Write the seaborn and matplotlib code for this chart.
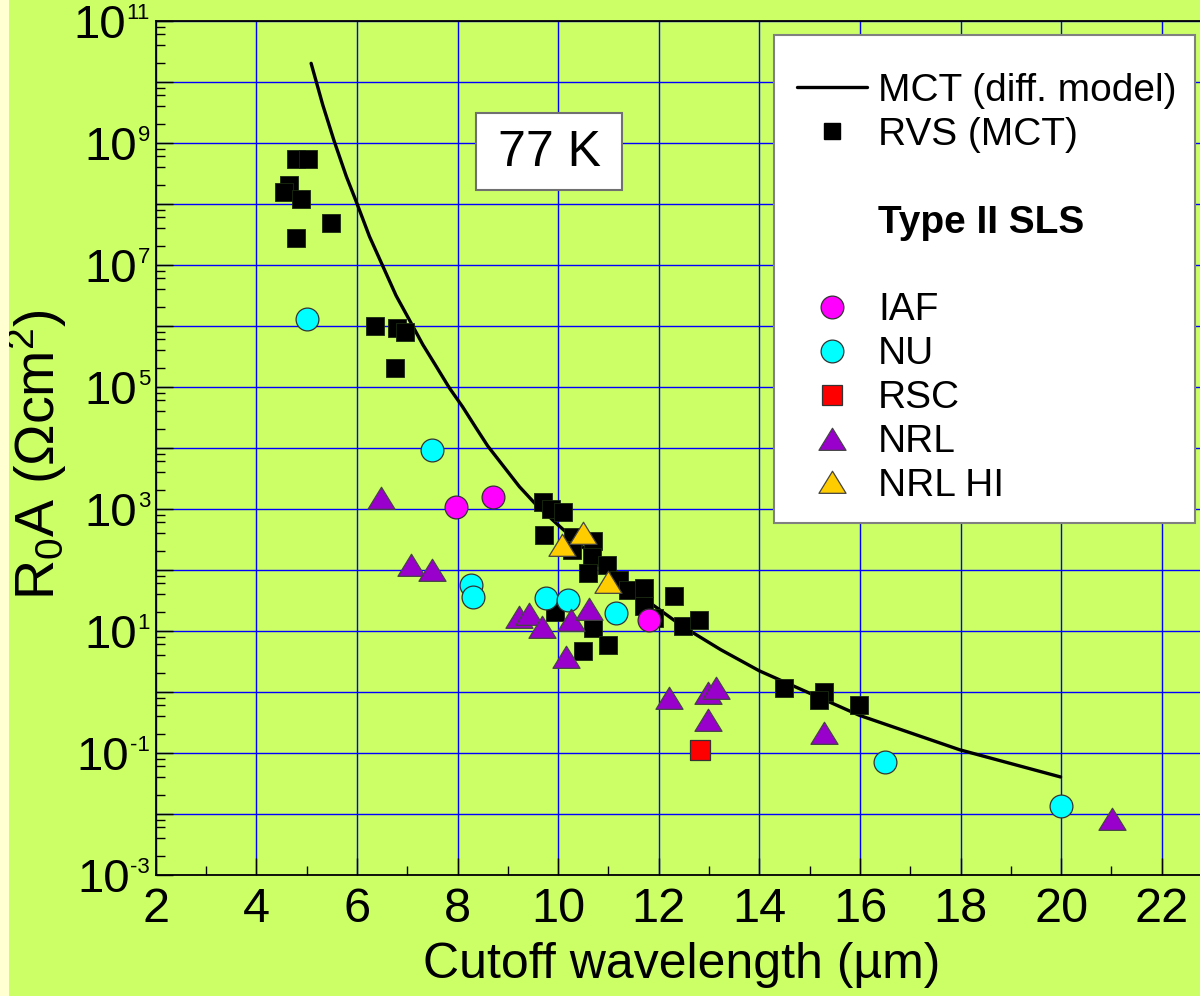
import numpy as np
import pandas as pd
import matplotlib
matplotlib.use("Agg")
import matplotlib.pyplot as plt
import matplotlib.transforms as mtrans
import seaborn as sns
from matplotlib.lines import Line2D
from matplotlib.patches import Rectangle
from matplotlib.path import Path
from matplotlib.ticker import FixedLocator, FuncFormatter, LogLocator, NullFormatter

sns.set_theme(style="white")
plt.rcParams['font.family'] = ['Liberation Sans', 'DejaVu Sans']
plt.rcParams['mathtext.fontset'] = 'custom'
plt.rcParams['mathtext.rm'] = 'Liberation Sans'
plt.rcParams['mathtext.it'] = 'Liberation Sans:italic'
plt.rcParams['mathtext.bf'] = 'Liberation Sans:bold'
plt.rcParams['text.color'] = 'black'
plt.rcParams['axes.labelcolor'] = 'black'
plt.rcParams['xtick.color'] = 'black'
plt.rcParams['ytick.color'] = 'black'

# ---- MCT diffusion-limited model curve (77 K) ----
model_wl = [5.09, 5.32, 5.55, 5.79, 5.98, 6.25, 6.48, 6.78, 7.04, 7.31, 7.57, 7.84,
            8.10, 8.37, 8.60, 9.23, 9.56, 9.99, 10.82, 11.62, 12.48, 13.23, 14.00,
            15.99, 17.98, 19.99]
model_ra = [2.0e10, 4.2e9, 1.05e9, 2.8e8, 1.12e8, 2.9e7, 1.1e7, 3.1e6, 1.26e6, 4.9e5,
            2.2e5, 9.5e4, 4.7e4, 2.1e4, 1.07e4, 2.3e3, 1.17e3, 5.5e2, 1.35e2, 38,
            11.7, 4.9, 2.2, 0.41, 0.112, 0.040]

# ---- RVS HgCdTe data ----
rvs_wl = [4.79, 5.02, 4.66, 4.56, 4.89, 5.49, 4.79, 6.35, 6.79, 6.96, 6.75,
          9.70, 9.86, 10.09, 9.71, 10.30, 10.27, 10.70, 10.68, 10.98, 10.59,
          11.22, 11.38, 11.70, 12.30, 11.70, 11.91, 9.93, 10.69, 10.99, 10.49,
          12.48, 12.80, 14.50, 15.29, 15.19, 15.99]
rvs_ra = [5.5e8, 5.5e8, 2.0e8, 1.55e8, 1.2e8, 4.8e7, 2.7e7, 1.0e6, 9.1e5, 7.8e5, 2.0e5,
          1.3e3, 1.0e3, 8.9e2, 3.7e2, 3.5e2, 2.1e2, 3.0e2, 1.6e2, 1.2e2, 87,
          68, 47, 50, 37, 25, 16, 20, 11, 5.9, 4.7,
          12, 15, 1.15, 1.0, 0.72, 0.60]

# ---- Type II superlattice data ----
iaf_wl = [7.97, 8.70, 11.80]
iaf_ra = [1.07e3, 1.55e3, 15]

nu_wl = [5.01, 7.49, 8.27, 8.30, 9.76, 10.19, 11.15, 16.50, 20.00]
nu_ra = [1.3e6, 9.1e3, 56, 36, 34, 32, 19.5, 0.071, 0.0135]

rsc_wl = [12.83]
rsc_ra = [0.11]

nrl_wl = [6.47, 7.08, 7.50, 9.23, 9.43, 9.68, 10.26, 10.61, 10.16, 12.20, 12.99,
          13.13, 12.99, 15.29, 21.01]
nrl_ra = [1.5e3, 1.2e2, 1.0e2, 16.6, 19, 11.7, 15, 23, 3.7, 0.78, 0.95,
          1.17, 0.35, 0.21, 8.3e-3]

nrl_hi_wl = [10.08, 10.49, 11.00]
nrl_hi_ra = [2.5e2, 4.0e2, 63]

x_ticks = [2, 4, 6, 8, 10, 12, 14, 16, 18, 20, 22]
y_exponents = list(range(-3, 12))

LIME = '#CCFF66'
W, H = 1200, 996
AX_L, AX_B, AX_T = 155.7, 874.7, 20.7          # axes frame in pixels

fig = plt.figure(figsize=(W / 100, H / 100), dpi=100, facecolor=LIME)
ax = fig.add_axes([AX_L / W, 1 - AX_B / H, 1 - AX_L / W, (AX_B - AX_T) / H])
ax.set_facecolor(LIME)
fig.patches.append(Rectangle((0, 0), 9 / W, 1, transform=fig.transFigure,
                             facecolor='#FFFFD2', edgecolor='none', zorder=0))

# wider-than-tall triangle marker
tri = Path([(-1, -0.8), (1, -0.8), (0, 0.83), (-1, -0.8)],
           [Path.MOVETO, Path.LINETO, Path.LINETO, Path.CLOSEPOLY])

sns.lineplot(x=model_wl, y=model_ra, sort=False, color='black', lw=2.4,
             ax=ax, zorder=3, legend=False)

groups = [
    (rvs_wl, rvs_ra, 's', 'black', '#1a2a10', 150, 0.6),
    (iaf_wl, iaf_ra, 'o', '#FF00FF', '#333333', 270, 0.9),
    (nu_wl, nu_ra, 'o', '#00FFFF', '#333333', 270, 0.9),
    (rsc_wl, rsc_ra, 's', '#FF0000', '#333333', 225, 0.9),
    (nrl_wl, nrl_ra, tri, '#9900CC', '#444444', 380, 0.9),
    (nrl_hi_wl, nrl_hi_ra, tri, '#FFCC00', '#444444', 380, 0.9),
]
for wl, ra, mk, fc, ec, s, lw in groups:
    sns.scatterplot(x=wl, y=ra, marker=mk, color=fc, edgecolor=ec, s=s,
                    linewidth=lw, ax=ax, zorder=4, legend=False)

ax.set_yscale('log')
ax.set_xlim(2, 2 + (W - AX_L) / 50.3)
ax.set_ylim(1e-3, 1e11)

ax.xaxis.set_major_locator(FixedLocator(x_ticks))
ax.xaxis.set_minor_locator(FixedLocator([t + 1 for t in x_ticks]))
ax.yaxis.set_major_locator(FixedLocator([10.0 ** e for e in y_exponents]))
ax.yaxis.set_minor_locator(LogLocator(base=10, subs=[2, 4, 6, 8], numticks=50))
ax.yaxis.set_minor_formatter(NullFormatter())
ax.yaxis.set_major_formatter(NullFormatter())
ax.xaxis.set_major_formatter(FuncFormatter(lambda v, p: '%d' % v))

ax.grid(True, which='major', color='#0000FF', lw=1.0)
ax.tick_params(which='both', direction='in', color='black', width=1.0,
               bottom=True, left=True, top=False, right=False)
ax.tick_params(which='major', length=12)
ax.tick_params(which='minor', length=6.5)
ax.tick_params(axis='x', labelsize=35, pad=9, labelcolor='black')

for side in ['left', 'bottom', 'top']:
    ax.spines[side].set_color('black')
    ax.spines[side].set_linewidth(1.3)
ax.spines['right'].set_visible(False)

# decade labels: large "10" with a small raised exponent
ytrans = mtrans.blended_transform_factory(ax.transAxes, ax.transData)
x_right = (150 - AX_L) / (W - AX_L)
for e in y_exponents:
    if e % 2 == 0:
        continue
    exp_txt = ax.annotate(str(e), xy=(x_right, 10.0 ** e), xycoords=ytrans,
                          xytext=(0, 1.5), textcoords='offset points',
                          ha='right', va='baseline', fontsize=16, color='black',
                          annotation_clip=False)
    ax.annotate('10', xy=(0, 10.0 ** e), xycoords=(exp_txt, ytrans),
                xytext=(-0.5, -12.2), textcoords='offset points', color='black',
                ha='right', va='baseline', fontsize=34, annotation_clip=False)

ax.set_xlabel('Cutoff wavelength (µm)', fontsize=36, color='black', va='center')
ax.xaxis.set_label_coords((682 - AX_L) / (W - AX_L), (AX_B - 965) / (AX_B - AX_T))
ax.set_ylabel('R$_0$A (Ωcm$^2$)', fontsize=40, color='black', va='center', ha='center')
ax.yaxis.set_label_coords((37 - AX_L) / (W - AX_L), (AX_B - 455) / (AX_B - AX_T))

# temperature tag
fig.patches.append(Rectangle((475.7 / W, 1 - 190 / H), 146.6 / W, 76.7 / H,
                             transform=fig.transFigure, facecolor='white',
                             edgecolor='#707070', lw=1.5, zorder=5))
fig.text(549 / W, 1 - 153 / H, '77 K', fontsize=36, ha='center', va='center',
         color='black', zorder=6)

# legend with its own frame
fig.patches.append(Rectangle((774 / W, 1 - 523 / H), (1195 - 774) / W, (523 - 35) / H,
                             transform=fig.transFigure, facecolor='white',
                             edgecolor='#808080', lw=1.5, zorder=7))
blank = Line2D([], [], ls='none', marker=None)
handles = [
    Line2D([], [], color='black', lw=2.4),
    Line2D([], [], ls='none', marker='s', ms=12, mfc='black', mec='black'),
    blank,
    blank,
    blank,
    Line2D([], [], ls='none', marker='o', ms=16.4, mfc='#FF00FF', mec='#333333', mew=0.9),
    Line2D([], [], ls='none', marker='o', ms=16.4, mfc='#00FFFF', mec='#333333', mew=0.9),
    Line2D([], [], ls='none', marker='s', ms=15, mfc='#FF0000', mec='#333333', mew=0.9),
    Line2D([], [], ls='none', marker=tri, ms=19.5, mfc='#9900CC', mec='#444444', mew=0.9),
    Line2D([], [], ls='none', marker=tri, ms=19.5, mfc='#FFCC00', mec='#444444', mew=0.9),
]
labels = ['MCT (diff. model)', 'RVS (MCT)', ' ', 'Type II SLS', ' ',
          'IAF', 'NU', 'RSC', 'NRL', 'NRL HI']
leg = fig.legend(handles, labels, loc='upper left',
                 bbox_to_anchor=(797 / W, 1 - 73 / H), bbox_transform=fig.transFigure,
                 borderaxespad=0, borderpad=0, fontsize=28, frameon=False,
                 handlelength=1.8, handletextpad=0.28, labelspacing=0.203,
                 labelcolor='black')
leg.get_texts()[3].set_fontweight('bold')
leg.set_zorder(8)

fig.savefig('out.png', dpi=100, facecolor=LIME)
